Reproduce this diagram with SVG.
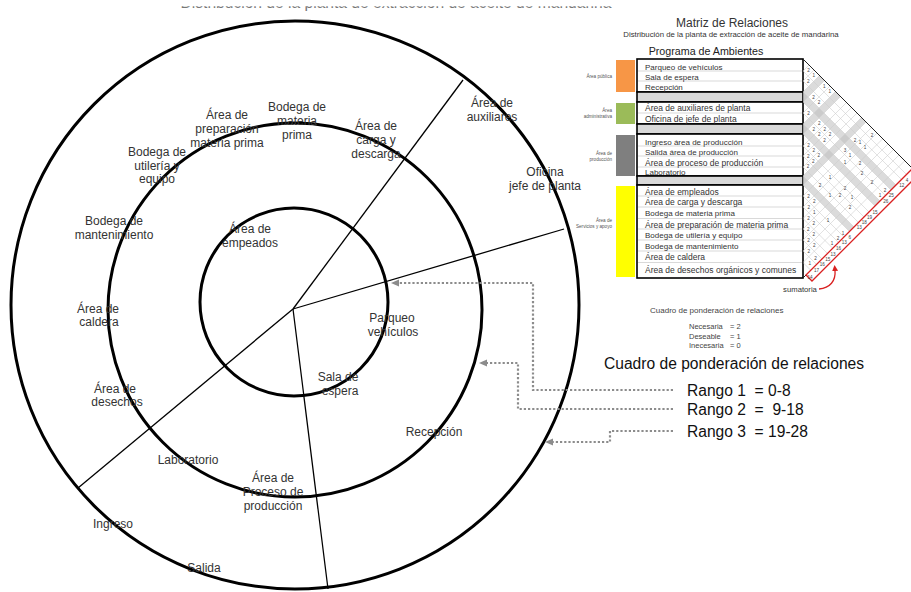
<svg xmlns="http://www.w3.org/2000/svg" width="911" height="592" viewBox="0 0 911 592">
  <style>
    text { font-family: "Liberation Sans", Arial, sans-serif; }
    .ring { fill: none; stroke: #000; stroke-width: 3; }
    .div { stroke: #000; stroke-width: 1.3; fill: none; }
    .zone { font-size: 12px; fill: #333; text-anchor: middle; }
    .grp { fill: #fff; stroke: #000; stroke-width: 1.6; }
    .bar { fill: #d9d9d9; stroke: #000; stroke-width: 1.6; }
    .sep { stroke: #cfcfcf; stroke-width: 0.8; }
    .row { font-size: 8px; fill: #333; }
    .rowa { font-size: 8.5px; fill: #333; }
    .cat { font-size: 4.6px; fill: #555; text-anchor: end; }
    .n { font-size: 4.6px; fill: #444; text-anchor: middle; }
    .band { fill: #bdbdbd; opacity: 0.55; }
    .grid { stroke: #cfcfcf; stroke-width: 0.6; fill: none; }
    .dot { fill: none; stroke: #8c8c8c; stroke-width: 2.2; stroke-dasharray: 2.2 2; }
    .big { font-size: 15.6px; fill: #111; }
  </style>
  <defs>
    <marker id="tip" markerUnits="userSpaceOnUse" markerWidth="9" markerHeight="8" refX="0" refY="4" orient="auto">
      <path d="M0,0.5 L8,4 L0,7.5 z" fill="#8c8c8c"/>
    </marker>
    <marker id="redtip" markerUnits="userSpaceOnUse" markerWidth="7" markerHeight="7" refX="1" refY="3" orient="auto">
      <path d="M0,0 L6,3 L0,6 z" fill="#d92020"/>
    </marker>
    <clipPath id="tri"><polygon points="803,59 912.5,168.5 803,278"/></clipPath>
    <clipPath id="topcut" clipPathUnits="userSpaceOnUse"><rect x="0" y="6.3" width="911" height="20"/></clipPath>
  </defs>

  <rect width="911" height="592" fill="#fff"/>

  <!-- heading, only its lower edge shows -->
  <g clip-path="url(#topcut)">
    <text x="396" y="8.3" font-size="15.6" fill="#777" text-anchor="middle">Distribución de la planta de extracción de aceite de mandarina</text>
  </g>

  <!-- zoning rings -->
  <g id="rings">
    <circle class="ring" cx="295" cy="305" r="284"/>
    <circle class="ring" cx="295" cy="310" r="187"/>
    <circle class="ring" cx="294" cy="302" r="94"/>
  </g>

  <!-- sector dividers and range arrows -->
  <g id="connectors">
    <g id="dividers">
      <line class="div" x1="293" y1="309" x2="463" y2="80"/>
      <line class="div" x1="293" y1="309" x2="564" y2="229"/>
      <line class="div" x1="293" y1="309" x2="78" y2="488"/>
      <line class="div" x1="293" y1="309" x2="328" y2="589"/>
    </g>
    <g id="range-arrows">
      <path class="dot" d="M673,390 H533 V283 H399" marker-end="url(#tip)"/>
      <path class="dot" d="M673,409 H518 V363 H487" marker-end="url(#tip)"/>
      <path class="dot" d="M673,431 H610 V442 H553" marker-end="url(#tip)"/>
    </g>
  </g>

  <!-- zones -->
  <g id="zone-bodega-materia"><text class="zone" x="297" y="110.5">Bodega de</text><text class="zone" x="297" y="124.5">materia</text><text class="zone" x="297" y="139">prima</text></g>
  <g id="zone-preparacion"><text class="zone" x="227" y="119">Área de</text><text class="zone" x="227" y="133">preparación</text><text class="zone" x="227" y="147">materia prima</text></g>
  <g id="zone-utileria"><text class="zone" x="157" y="156">Bodega de</text><text class="zone" x="157" y="169.5">utilería y</text><text class="zone" x="157" y="183">equipo</text></g>
  <g id="zone-mantenimiento"><text class="zone" x="114" y="225">Bodega de</text><text class="zone" x="114" y="238.5">mantenimiento</text></g>
  <g id="zone-empleados"><text class="zone" x="250" y="233">Área de</text><text class="zone" x="250" y="247">empeados</text></g>
  <g id="zone-carga"><text class="zone" x="376" y="130">Área de</text><text class="zone" x="376" y="144">carga y</text><text class="zone" x="376" y="158">descarga</text></g>
  <g id="zone-auxiliares"><text class="zone" x="492" y="107">Área de</text><text class="zone" x="492" y="121">auxiliares</text></g>
  <g id="zone-oficina"><text class="zone" x="545" y="176">Oficina</text><text class="zone" x="545" y="189.5">jefe de planta</text></g>
  <g id="zone-parqueo"><text class="zone" x="392" y="322">Parqueo</text><text class="zone" x="393" y="335.5">vehículos</text></g>
  <g id="zone-sala"><text class="zone" x="338" y="381">Sala de</text><text class="zone" x="340" y="395">espera</text></g>
  <g id="zone-caldera"><text class="zone" x="98" y="313">Área de</text><text class="zone" x="99" y="326">caldera</text></g>
  <g id="zone-desechos"><text class="zone" x="115" y="393">Área de</text><text class="zone" x="117" y="406">desechos</text></g>
  <g id="zone-laboratorio"><text class="zone" x="188" y="464">Laboratorio</text></g>
  <g id="zone-proceso"><text class="zone" x="273" y="482">Área de</text><text class="zone" x="273" y="496">Proceso de</text><text class="zone" x="273" y="510">producción</text></g>
  <g id="zone-ingreso"><text class="zone" x="113" y="528">Ingreso</text></g>
  <g id="zone-salida"><text class="zone" x="204" y="572">Salida</text></g>
  <g id="zone-recepcion"><text class="zone" x="434" y="436">Recepción</text></g>

  <!-- relationship matrix -->
  <g id="matrix">
    <text x="732" y="26.5" font-size="12" fill="#333" text-anchor="middle">Matriz de Relaciones</text>
    <text x="731" y="36.5" font-size="7.8" fill="#333" text-anchor="middle">Distribución de la planta de extracción de aceite de mandarina</text>
    <text x="706" y="55" font-size="10.7" fill="#222" text-anchor="middle">Programa de Ambientes</text>

    <!-- category colour keys -->
    <rect x="616" y="60" width="19" height="32" fill="#f79646"/>
    <rect x="616" y="103" width="19" height="21" fill="#9bbb59"/>
    <rect x="616" y="135" width="19" height="41" fill="#7f7f7f"/>
    <rect x="616" y="186" width="19" height="91" fill="#ffff00"/>
    <text class="cat" x="612" y="77.5">Área pública</text>
    <text class="cat" x="612" y="112">Área</text>
    <text class="cat" x="612" y="117.5">administrativa</text>
    <text class="cat" x="612" y="155">Área de</text>
    <text class="cat" x="612" y="161">producción</text>
    <text class="cat" x="612" y="221.5">Área de</text>
    <text class="cat" x="612" y="228">Servicios y apoyo</text>

    <!-- program table -->
    <rect class="grp" x="637" y="59" width="166" height="33"/>
    <rect class="bar" x="637" y="92" width="166" height="10"/>
    <rect class="grp" x="637" y="102" width="166" height="22"/>
    <rect class="bar" x="637" y="124" width="166" height="10"/>
    <rect class="grp" x="637" y="134" width="166" height="42"/>
    <rect class="bar" x="637" y="176" width="166" height="9"/>
    <rect class="grp" x="637" y="185" width="166" height="93"/>
    <path class="sep" d="M638,71H802M638,81H802M638,113H802M638,146H802M638,156H802M638,167H802M638,196H802M638,207H802M638,218.5H802M638,229H802M638,240H802M638,251H802M638,262.5H802"/>

    <text class="row" x="645" y="69.5">Parqueo de vehículos</text>
    <text class="row" x="645" y="79.5">Sala de espera</text>
    <text class="row" x="645" y="90">Recepción</text>
    <text class="rowa" x="645" y="111">Área de auxiliares de planta</text>
    <text class="rowa" x="645" y="121.5">Oficina de jefe de planta</text>
    <text class="row" x="645" y="144.5">Ingreso área de producción</text>
    <text class="row" x="645" y="154.5">Salida área de producción</text>
    <text class="rowa" x="645" y="165.5">Área de proceso de producción</text>
    <text class="row" x="645" y="175">Laboratorio</text>
    <text class="rowa" x="645" y="194.5">Área de empleados</text>
    <text class="rowa" x="645" y="205">Área de carga y descarga</text>
    <text class="row" x="645" y="216">Bodega de materia prima</text>
    <text class="rowa" x="645" y="227.5">Área de preparación de materia prima</text>
    <text class="row" x="645" y="238">Bodega de utilería y equipo</text>
    <text class="row" x="645" y="249">Bodega de mantenimiento</text>
    <text class="rowa" x="645" y="260">Área de caldera</text>
    <text class="rowa" x="645" y="272.5">Área de desechos orgánicos y comunes</text>

    <!-- diagonal relation grid -->
    <g clip-path="url(#tri)">
      <polygon class="band" points="803,92 803,102 923,222 923,212"/>
      <polygon class="band" points="803,92 803,102 923,-18 923,-28"/>
      <polygon class="band" points="803,124 803,134 923,254 923,244"/>
      <polygon class="band" points="803,124 803,134 923,14 923,4"/>
      <polygon class="band" points="803,176 803,185 923,305 923,296"/>
      <polygon class="band" points="803,176 803,185 923,65 923,56"/>
      <path class="grid" d="M803,71l120,120M803,71l120,-120M803,81l120,120M803,81l120,-120M803,92l120,120M803,92l120,-120M803,102l120,120M803,102l120,-120M803,113l120,120M803,113l120,-120M803,124l120,120M803,124l120,-120M803,134l120,120M803,134l120,-120M803,146l120,120M803,146l120,-120M803,156l120,120M803,156l120,-120M803,167l120,120M803,167l120,-120M803,176l120,120M803,176l120,-120M803,185l120,120M803,185l120,-120M803,196l120,120M803,196l120,-120M803,207l120,120M803,207l120,-120M803,218.5l120,120M803,218.5l120,-120M803,229l120,120M803,229l120,-120M803,240l120,120M803,240l120,-120M803,251l120,120M803,251l120,-120M803,262.5l120,120M803,262.5l120,-120"/>
    </g>
    <line x1="803" y1="59" x2="912" y2="168" stroke="#222" stroke-width="1"/>
    <line x1="803" y1="278" x2="808" y2="273" stroke="#222" stroke-width="1"/>

    <!-- relation values -->
    <g id="relation-values">
      <text class="n" x="808.5" y="72.1">2</text><text class="n" x="808.3" y="82.9">2</text><text class="n" x="813.8" y="77.4">1</text>
      <text class="n" x="824.3" y="87.9">1</text><text class="n" x="829.8" y="93.4">1</text><text class="n" x="813.5" y="98.6">2</text><text class="n" x="819" y="104.1">2</text>
      <text class="n" x="808.5" y="114.6">2</text>
      <text class="n" x="813.8" y="130.9">2</text><text class="n" x="819.3" y="125.4">2</text><text class="n" x="819.3" y="136.4">2</text><text class="n" x="824.8" y="130.9">2</text><text class="n" x="824.5" y="141.6">2</text><text class="n" x="830" y="136.1">2</text>
      <text class="n" x="808.5" y="147.1">2</text><text class="n" x="808.3" y="157.9">2</text><text class="n" x="808" y="168.1">2</text><text class="n" x="813.8" y="152.4">2</text><text class="n" x="813.3" y="162.9">2</text><text class="n" x="818.8" y="157.4">2</text>
      <text class="n" x="872" y="136.6">2</text><text class="n" x="855" y="141.6">2</text><text class="n" x="860" y="144.1">1</text><text class="n" x="865" y="148.6">1</text><text class="n" x="845" y="151.6">3</text><text class="n" x="850" y="156.6">1</text><text class="n" x="845" y="163.6">1</text><text class="n" x="860" y="164.6">2</text><text class="n" x="862" y="174.6">2</text>
      <text class="n" x="830" y="178.6">1</text><text class="n" x="872" y="183.6">2</text><text class="n" x="820" y="186.6">2</text><text class="n" x="845" y="189.6">2</text><text class="n" x="830" y="196.6">1</text><text class="n" x="840" y="196.6">2</text><text class="n" x="852" y="198.6">1</text><text class="n" x="850" y="208.6">2</text>
      <text class="n" x="843" y="234.6">1</text><text class="n" x="838" y="239.6">2</text><text class="n" x="832" y="244.6">1</text><text class="n" x="828" y="221.6">1</text><text class="n" x="880" y="196.6">1</text><text class="n" x="885" y="191.6">2</text>
      <text class="n" x="808.5" y="197.6">2</text><text class="n" x="808.8" y="208.9">2</text><text class="n" x="808.5" y="220.1">2</text><text class="n" x="808.3" y="230.9">2</text><text class="n" x="808.5" y="241.6">2</text><text class="n" x="808.8" y="252.9">2</text><text class="n" x="809.8" y="265.4">1</text>
      <text class="n" x="814.3" y="203.4">2</text><text class="n" x="814.3" y="214.4">1</text><text class="n" x="813.8" y="225.4">2</text><text class="n" x="813.8" y="236.4">2</text><text class="n" x="814.3" y="247.4">2</text><text class="n" x="815.5" y="259.6">2</text>
    </g>

    <!-- summation strip -->
    <g id="sumatoria">
      <polygon points="806,275 812,281 930,163 924,157" fill="none" stroke="#d92020" stroke-width="1.3"/>
      <text class="n" x="810" y="278.6">14</text><text class="n" x="816.5" y="272.1">17</text><text class="n" x="822.3" y="266.4">16</text><text class="n" x="827.8" y="260.9">15</text>
      <text class="n" x="833" y="255.6">13</text><text class="n" x="838.5" y="250.1">16</text><text class="n" x="844.3" y="244.4">13</text><text class="n" x="849.8" y="238.9">6</text>
      <text class="n" x="859.3" y="229.4">13</text><text class="n" x="864.3" y="224.4">18</text><text class="n" x="869.5" y="219.1">19</text><text class="n" x="875" y="213.6">15</text>
      <text class="n" x="885.8" y="202.9">26</text><text class="n" x="891.3" y="197.4">25</text><text class="n" x="901.8" y="186.9">12</text><text class="n" x="907" y="181.6">4</text>
      <text x="800" y="292" font-size="7.7" fill="#333" text-anchor="middle">sumatoria</text>
      <path d="M819,289 C830,288 836,281 835,270" fill="none" stroke="#d92020" stroke-width="1.3" marker-end="url(#redtip)"/>
    </g>
  </g>

  <!-- weighting legend -->
  <g id="legend">
    <text x="650" y="313" font-size="8" fill="#444">Cuadro de ponderación de relaciones</text>
    <text x="689" y="329" font-size="7.5" fill="#444">Necesaria</text><text x="730" y="329" font-size="7.5" fill="#444">= 2</text>
    <text x="689" y="338.5" font-size="7.5" fill="#444">Deseable</text><text x="730" y="338.5" font-size="7.5" fill="#444">= 1</text>
    <text x="689" y="348" font-size="7.5" fill="#444">Inecesaria</text><text x="730" y="348" font-size="7.5" fill="#444">= 0</text>
    <text class="big" x="604" y="368.5">Cuadro de ponderación de relaciones</text>
    <text class="big" x="687" y="395.5" xml:space="preserve">Rango 1  = 0-8</text>
    <text class="big" x="687" y="415" xml:space="preserve">Rango 2  =  9-18</text>
    <text class="big" x="687" y="436.5" xml:space="preserve">Rango 3  = 19-28</text>
  </g>
</svg>
